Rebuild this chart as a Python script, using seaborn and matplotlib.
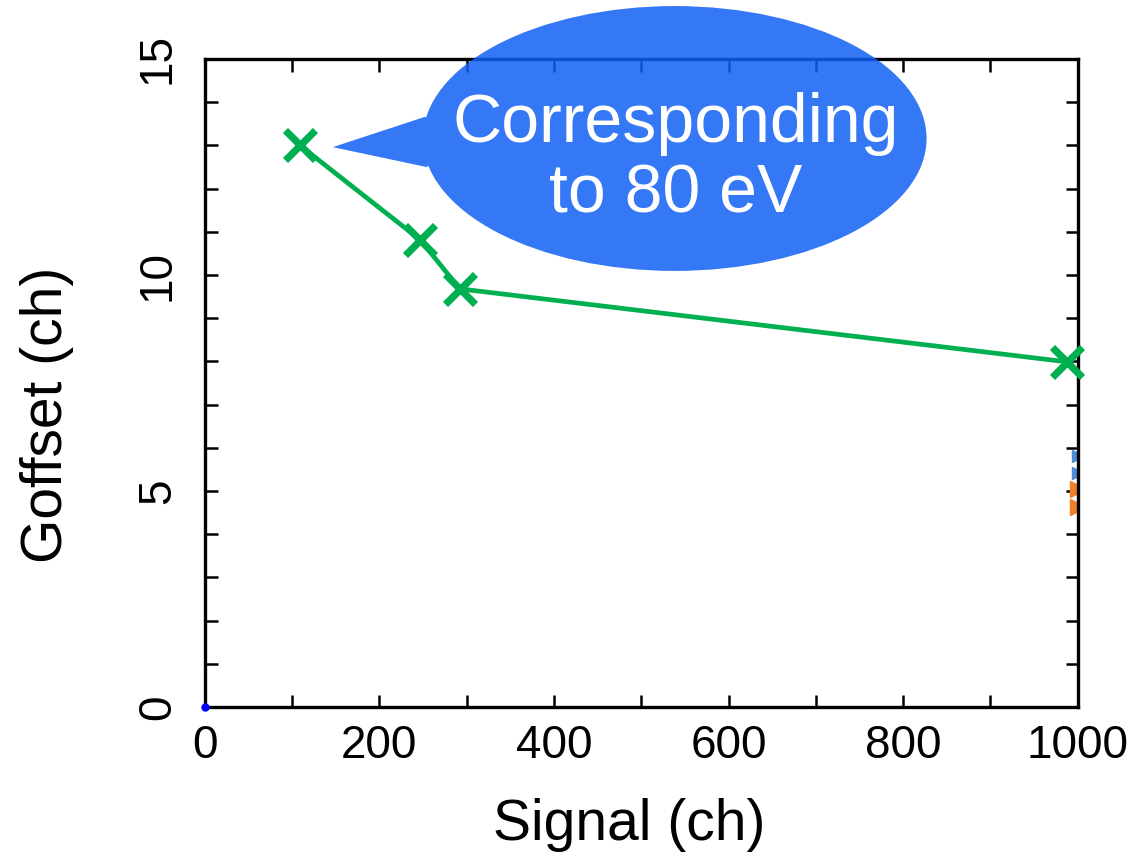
import matplotlib
matplotlib.use("Agg")
import matplotlib.pyplot as plt
import seaborn as sns
import numpy as np
import pandas as pd
from matplotlib.patches import Ellipse, PathPatch
from matplotlib.path import Path

# Data
signal = [109, 247, 292, 988]
goffset = [13.0, 10.81, 9.68, 7.99]
blue_y = [5.81, 5.42]
orange_y = [5.05, 4.63]
edge_x = 1000
origin_x = [0]
origin_y = [0]
xticks = [0, 200, 400, 600, 800, 1000]
yticks = [0, 5, 10, 15]
callout = "Corresponding\nto 80 eV"

sns.set_theme(style="ticks")
plt.rcParams['font.family'] = ['Liberation Sans', 'DejaVu Sans']
plt.rcParams['text.color'] = 'black'
plt.rcParams['axes.labelcolor'] = 'black'
plt.rcParams['xtick.color'] = 'black'
plt.rcParams['ytick.color'] = 'black'

fig = plt.figure(figsize=(11.38, 8.55), dpi=100)
ax = fig.add_axes([0.180, 0.173, 0.767, 0.758])

green = "#00B050"
df = pd.DataFrame({"Signal": signal, "Goffset": goffset})
sns.lineplot(data=df, x="Signal", y="Goffset", ax=ax, color=green, lw=3.4,
             marker="x", markersize=21, markeredgewidth=5.2, markeredgecolor=green,
             sort=False, zorder=3, clip_on=False)

ax.plot([edge_x] * len(blue_y), blue_y, ls="none", marker=">", color="#4C8FD8",
        markersize=9, clip_on=True)
ax.plot([edge_x] * len(orange_y), orange_y, ls="none", marker=">", color="#F07F2B",
        markersize=11, clip_on=True)
ax.plot(origin_x, origin_y, ls="none", marker="o", color="#0000FF", markersize=5,
        clip_on=False, zorder=5)

ax.set_xlim(0, 1000)
ax.set_ylim(0, 15)
ax.set_xticks(xticks)
ax.set_yticks(yticks)
ax.set_xticks(np.arange(0, 1001, 100), minor=True)
ax.set_yticks(np.arange(0, 16, 1), minor=True)
ax.tick_params(which="both", direction="in", top=True, right=True, length=9,
               width=1.8, color="black", labelsize=33, labelcolor="black")
ax.tick_params(axis="x", pad=12)
ax.tick_params(axis="y", pad=18)
for lab in ax.get_yticklabels():
    lab.set_rotation(90)
    lab.set_va("center")
for s in ax.spines.values():
    s.set_linewidth(2.4)
    s.set_color("black")

ax.set_xlabel("Signal (ch)", fontsize=41)
ax.set_ylabel("Goffset (ch)", fontsize=41)
ax.xaxis.set_label_coords(0.486, -0.140)
ax.yaxis.set_label_coords(-0.150, 0.451)

# Callout bubble as one path (ellipse + tail), slightly translucent over the frame
bubble = (16 / 255, 96 / 255, 244 / 255)
ell = Ellipse((538.4, 13.16), 577, 6.13)
ell_path = ell.get_patch_transform().transform_path(ell.get_path())
tail_path = Path([(146.6, 12.96), (254, 12.5), (300, 13.1), (252, 13.66), (146.6, 12.96)],
                 [Path.MOVETO, Path.LINETO, Path.LINETO, Path.LINETO, Path.CLOSEPOLY])
bubble_path = Path.make_compound_path(ell_path, tail_path)
ax.add_patch(PathPatch(bubble_path, facecolor=bubble, edgecolor="none", alpha=0.85,
                       clip_on=False, zorder=4))
ax.text(540, 12.68, callout, color="white", fontsize=49, ha="center", va="center",
        linespacing=1.12, zorder=6)

fig.savefig("out.png", dpi=100)
